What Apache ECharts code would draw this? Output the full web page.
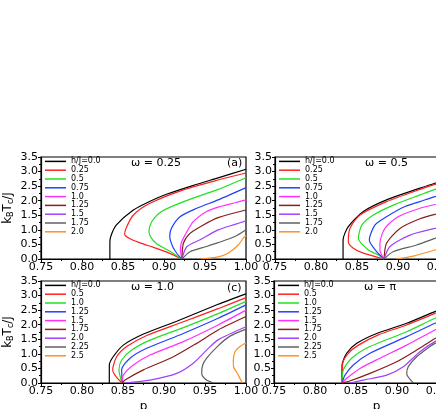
<!DOCTYPE html>
<html>
<head>
<meta charset="utf-8">
<script src="https://cdn.jsdelivr.net/npm/echarts@6/dist/echarts.min.js"></script>
<style>
  html, body { margin: 0; padding: 0; background: #fff; }
  #chart { width: 436px; height: 409px; }
</style>
</head>
<body>
<div id="chart"></div>
<script>
// x ticks, y ticks
var pTicks = [0.75, 0.80, 0.85, 0.90, 0.95, 1.00];
var tTicks = [0.0, 0.5, 1.0, 1.5, 2.0, 2.5, 3.0, 3.5];

// legend labels
var labelsTop = ['h/J=0.0', '0.25', '0.5', '0.75', '1.0', '1.25', '1.5', '1.75', '2.0'];
var labelsBottom = ['h/J=0.0', '0.5', '1.0', '1.25', '1.5', '1.75', '2.0', '2.25', '2.5'];
var colors = ['#000000', '#ff2020', '#20e020', '#2040ff', '#ff30ff', '#8b1c1c', '#a040ff', '#606060', '#ff9020'];

var titles = ['\u03c9 = 0.25', '\u03c9 = 0.5', '\u03c9 = 1.0', '\u03c9 = \u03c0'];

// [p, kTc/J] points
var panelA = [
  [[0.834,0],[0.834,0.6],[0.836,0.85],[0.842,1.17],[0.8626,1.68],[0.883,1.98],[0.903,2.22],[0.935,2.52],[0.968,2.8],[1.0,3.08]],
  [[0.922,0],[0.905,0.22],[0.887,0.4],[0.87,0.56],[0.858,0.7],[0.852,0.85],[0.8537,1.05],[0.8626,1.51],[0.883,1.91],[0.9236,2.37],[0.966,2.71],[1.0,2.95]],
  [[0.922,0],[0.905,0.3],[0.891,0.52],[0.884,0.74],[0.8817,0.95],[0.885,1.28],[0.897,1.63],[0.924,1.97],[0.966,2.39],[1.0,2.79]],
  [[0.922,0],[0.916,0.18],[0.911,0.4],[0.907,0.77],[0.909,1.05],[0.9195,1.45],[0.94,1.74],[0.966,2.03],[1.0,2.45]],
  [[0.922,0],[0.920,0.3],[0.921,0.55],[0.9256,0.82],[0.9357,1.28],[0.952,1.63],[0.966,1.78],[0.9866,1.93],[1.0,2.03]],
  [[0.922,0],[0.9236,0.54],[0.9317,0.88],[0.948,1.17],[0.966,1.42],[1.0,1.68]],
  [[0.922,0],[0.9277,0.42],[0.944,0.66],[0.966,1.0],[0.9866,1.19],[1.0,1.31]],
  [[0.922,0],[0.9317,0.25],[0.952,0.43],[0.966,0.56],[0.9866,0.77],[1.0,1.0]],
  [[0.945,0],[0.966,0.07],[0.978,0.2],[0.9906,0.48],[0.997,0.73],[1.0,0.8]]
];
var panelB = [
  [[0.833,0],[0.833,0.65],[0.8394,1.11],[0.8577,1.63],[0.886,2.03],[0.9268,2.43],[0.945,2.6],[0.975,2.85],[1.0,3.05]],
  [[0.883,0],[0.8577,0.2],[0.8455,0.37],[0.8394,0.59],[0.8414,1.05],[0.8536,1.51],[0.886,1.97],[0.9268,2.39],[0.945,2.56],[0.975,2.8],[1.0,3.0]],
  [[0.883,0],[0.876,0.14],[0.8638,0.31],[0.8516,0.71],[0.856,1.17],[0.8699,1.51],[0.8943,1.85],[0.9268,2.2],[0.945,2.39],[0.975,2.65],[1.0,2.85]],
  [[0.883,0],[0.874,0.25],[0.865,0.65],[0.872,1.17],[0.886,1.45],[0.9085,1.8],[0.9268,1.97],[0.945,2.14],[0.975,2.4],[1.0,2.6]],
  [[0.883,0],[0.878,0.3],[0.878,0.54],[0.884,1.05],[0.9,1.45],[0.9268,1.74],[0.945,1.87],[0.975,2.05],[1.0,2.2]],
  [[0.883,0],[0.886,0.54],[0.9024,1.05],[0.9268,1.38],[0.945,1.53],[0.975,1.72],[1.0,1.85]],
  [[0.883,0],[0.89,0.42],[0.9146,0.82],[0.945,1.05],[0.975,1.25],[1.0,1.4]],
  [[0.883,0],[0.894,0.25],[0.9228,0.48],[0.945,0.71],[0.975,0.95],[1.0,1.1]],
  [[0.898,0],[0.9187,0.1],[0.945,0.31],[0.975,0.55],[1.0,0.75]]
];
var panelC = [
  [[0.8333,0],[0.8333,0.62],[0.838,0.9],[0.8504,1.3],[0.875,1.68],[0.9155,2.12],[0.966,2.7],[1.0,3.06]],
  [[0.849,0],[0.842,0.2],[0.8374,0.45],[0.8423,0.9],[0.8545,1.25],[0.8789,1.63],[0.9195,2.06],[0.966,2.55],[1.0,2.93]],
  [[0.849,0],[0.8451,0.45],[0.8484,0.79],[0.8606,1.13],[0.883,1.47],[0.9236,1.9],[0.966,2.38],[1.0,2.8]],
  [[0.849,0],[0.8484,0.45],[0.8585,0.85],[0.8789,1.19],[0.9236,1.7],[0.966,2.22],[1.0,2.68]],
  [[0.849,0],[0.8504,0.27],[0.8626,0.62],[0.883,0.96],[0.9236,1.42],[0.966,1.99],[1.0,2.5]],
  [[0.849,0],[0.8524,0.1],[0.8748,0.45],[0.9114,0.9],[0.9398,1.36],[0.966,1.82],[1.0,2.28]],
  [[0.8524,0],[0.883,0.1],[0.9155,0.33],[0.9357,0.68],[0.952,1.13],[0.966,1.48],[1.0,1.93]],
  [[0.96,0],[0.951,0.12],[0.946,0.33],[0.947,0.6],[0.952,0.85],[0.965,1.25],[0.98,1.6],[1.0,1.85]],
  [[0.9955,0],[0.9906,0.27],[0.985,0.55],[0.9845,0.75],[0.9866,1.07],[0.9927,1.25],[1.0,1.38]]
];
var panelD = [
  [[0.833,0],[0.833,0.6],[0.8386,1.02],[0.8509,1.36],[0.8752,1.7],[0.9118,2.05],[0.9463,2.45],[0.975,2.75],[1.0,3.0]],
  [[0.833,0],[0.8338,0.68],[0.8406,1.02],[0.853,1.3],[0.878,1.66],[0.9118,1.99],[0.9463,2.39],[0.975,2.7],[1.0,2.95]],
  [[0.833,0],[0.8345,0.45],[0.8447,0.85],[0.867,1.25],[0.9118,1.76],[0.9463,2.22],[0.975,2.55],[1.0,2.85]],
  [[0.833,0],[0.8366,0.27],[0.8467,0.62],[0.867,1.02],[0.9118,1.59],[0.9463,2.05],[0.975,2.4],[1.0,2.7]],
  [[0.833,0],[0.8386,0.16],[0.8549,0.5],[0.8793,0.85],[0.9118,1.3],[0.9463,1.82],[0.975,2.2],[1.0,2.5]],
  [[0.833,0],[0.8406,0.05],[0.867,0.33],[0.8996,0.73],[0.924,1.13],[0.9463,1.53],[0.975,1.95],[1.0,2.25]],
  [[0.8427,0],[0.859,0.1],[0.8874,0.27],[0.9077,0.56],[0.928,1.07],[0.9463,1.42],[0.975,1.8],[1.0,2.05]],
  [[0.92,0],[0.9118,0.33],[0.9138,0.56],[0.924,0.9],[0.9402,1.25],[0.9463,1.36],[0.975,1.7],[1.0,1.9]],
  [[0.99,0],[0.98,0.5],[0.985,1.0],[1.0,1.2]]
];

var FONT = 'DejaVu Sans';
var panels = [panelA, panelB, panelC, panelD];
var panelLabels = [labelsTop, labelsTop, labelsBottom, labelsBottom];
var gridPos = [
  {left: 41, top: 157}, {left: 275, top: 157},
  {left: 41, top: 281}, {left: 274, top: 281}
];

var myChart = echarts.init(document.getElementById('chart'));

var grids = [], xAxes = [], yAxes = [], legends = [], series = [];
gridPos.forEach(function (g, k) {
  grids.push({left: g.left, top: g.top, width: 205, height: 102, outerBoundsMode: 'none',
    show: true, borderColor: '#000', borderWidth: 1.2, backgroundColor: 'transparent'});
  xAxes.push({
    type: 'value', gridIndex: k, min: pTicks[0], max: pTicks[pTicks.length - 1], interval: 0.05,
    name: k >= 2 ? 'p' : '', nameLocation: 'middle', nameGap: 18,
    nameTextStyle: {fontFamily: FONT, fontSize: 12, color: '#000'},
    axisLine: {lineStyle: {color: '#000', width: 1.2}},
    axisTick: {length: 3, lineStyle: {color: '#000'}},
    minorTick: {show: true, splitNumber: 2, length: 2, lineStyle: {color: '#000'}},
    splitLine: {show: false},
    axisLabel: {fontFamily: FONT, fontSize: 11, color: '#000', margin: 3,
      formatter: function (v) { return v.toFixed(2); }}
  });
  yAxes.push({
    type: 'value', gridIndex: k, min: tTicks[0], max: tTicks[tTicks.length - 1], interval: 0.5,
    name: (k % 2 === 0) ? '{a|k}{b|B}{a|T}{b|c}{a|/J}' : '',
    nameLocation: 'middle', nameRotate: 90, nameGap: 27,
    nameTextStyle: {
      rich: {
        a: {fontFamily: FONT, fontSize: 12, color: '#000', lineHeight: 12, verticalAlign: 'top'},
        b: {fontFamily: FONT, fontSize: 8, color: '#000', lineHeight: 9, padding: [5, 0, 0, 0], verticalAlign: 'top'}
      }
    },
    axisLine: {lineStyle: {color: '#000', width: 1.2}},
    axisTick: {length: 3, lineStyle: {color: '#000'}},
    minorTick: {show: true, splitNumber: 2, length: 2, lineStyle: {color: '#000'}},
    splitLine: {show: false},
    axisLabel: {fontFamily: FONT, fontSize: 11, color: '#000', margin: 3,
      formatter: function (v) { return v.toFixed(1); }}
  });
  var names = [];
  panels[k].forEach(function (curve, i) {
    var nm = k + '|' + panelLabels[k][i];
    names.push(nm);
    series.push({
      name: nm, type: 'line', xAxisIndex: k, yAxisIndex: k,
      data: curve, smooth: 0.25, showSymbol: false, symbol: 'none', clip: true,
      color: colors[i], lineStyle: {width: 1.2, color: colors[i]}
    });
  });
  legends.push({
    data: names, orient: 'vertical', left: g.left + 4, top: g.top, padding: 0,
    icon: 'rect', itemWidth: 21, itemHeight: 1.5, itemGap: 0,
    selectedMode: false,
    textStyle: {fontFamily: FONT, fontSize: 8, color: '#000', lineHeight: 8.8},
    formatter: function (n) { return n.split('|')[1]; }
  });
});

var graphics = [];
gridPos.forEach(function (g, k) {
  graphics.push({type: 'text', left: g.left + 90, top: g.top + 1,
    style: {text: titles[k], font: '11px "DejaVu Sans"', fill: '#000'}});
});
graphics.push({type: 'text', left: 227, top: 158, style: {text: '(a)', font: '11px "DejaVu Sans"', fill: '#000'}});
graphics.push({type: 'text', left: 227, top: 283, style: {text: '(c)', font: '11px "DejaVu Sans"', fill: '#000'}});

myChart.setOption({
  animation: false,
  backgroundColor: '#fff',
  grid: grids,
  xAxis: xAxes,
  yAxis: yAxes,
  legend: legends,
  graphic: graphics,
  series: series
});
</script>
</body>
</html>
